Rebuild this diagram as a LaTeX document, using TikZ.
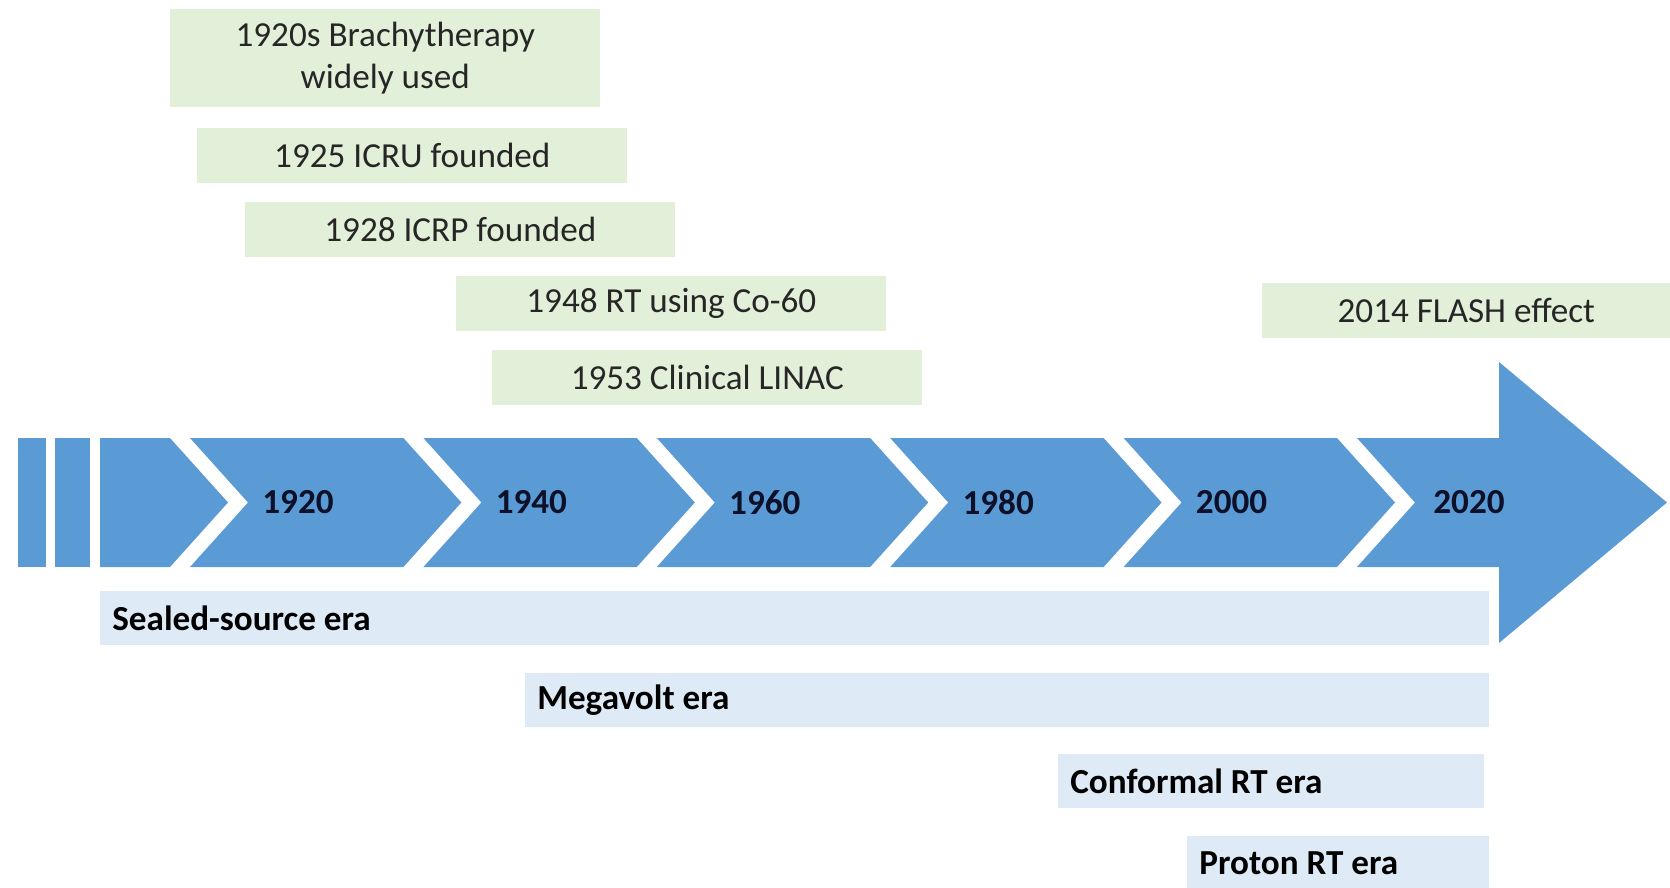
\documentclass[tikz,border=0pt]{standalone}
\usepackage{fontspec}
\setmainfont{Carlito}
\usepackage{xcolor}
\definecolor{tlBlue}{RGB}{91, 155, 213}
\definecolor{tlGreen}{RGB}{226, 239, 217}
\definecolor{tlSky}{RGB}{222, 235, 247}
\definecolor{tlInk}{RGB}{38, 38, 38}
\definecolor{tlNavy}{RGB}{12, 16, 40}
\usepackage{tikz}

\begin{document}
\begin{tikzpicture}[x=0.02cm, y=-0.02cm,
  evt/.style={rectangle, fill=tlGreen, minimum width=8.6cm, minimum height=1.1cm,
              inner sep=0pt, anchor=north west, align=center, text=tlInk,
              font=\fontsize{20}{24}\selectfont},
  era/.style={rectangle, fill=tlSky, minimum height=1.08cm, inner xsep=0.24cm,
              inner ysep=0pt, anchor=north west, align=flush left, text=black,
              font=\fontsize{20}{24}\selectfont\bfseries},
  yr/.style={font=\fontsize{20}{24}\selectfont\bfseries, text=tlNavy},
  seg/.style={fill=tlBlue},
]
  \useasboundingbox (0,0) rectangle (1670,888);

  % milestones above the time line
  \node[evt, minimum height=1.96cm] (e1) at (170,9) {1920s Brachytherapy\\widely used};
  \node[evt] (e2) at (197,128) {1925 ICRU founded};
  \node[evt] (e3) at (245,202) {1928 ICRP founded};
  \node[evt] (e4) at (456,276) {1948 RT using Co-60};
  \node[evt] (e5) at (492,350) {1953 Clinical LINAC};
  \node[evt, minimum width=8.16cm] (e6) at (1262,283) {2014 FLASH effect};

  % time line: broken start, chevrons, arrow head
  \fill[seg] (18,438) rectangle (46,567);
  \fill[seg] (55,438) rectangle (90,567);
  \fill[seg] (100,438) -- (170,438) -- (228,502.5) -- (170,567) -- (100,567) -- cycle;
  \foreach \yr [count=\i] in {1920,1940,1960,1980,2000} {
    \pgfmathsetmacro{\xl}{233.4*\i-43.4}
    \pgfmathsetmacro{\xr}{170+233.4*\i}
    \fill[seg] (\xl,438) -- (\xr,438) -- (\xr+58,502.5) -- (\xr,567)
      -- (\xl,567) -- (\xl+58,502.5) -- cycle;
    \node[yr] (y\yr) at (\xl+108,502.5) {\yr};
  }
  \fill[seg] (1357,438) -- (1499,438) -- (1499,362) -- (1667,502.5) -- (1499,643)
    -- (1499,567) -- (1357,567) -- (1415,502.5) -- cycle;
  \node[yr] (y2020) at (1469,502.5) {2020};

  % eras below the time line
  \node[era, text width=27.3cm] (r1) at (100,591) {Sealed-source era};
  \node[era, text width=18.8cm] (r2) at (525,673) {Megavolt era};
  \node[era, text width=8.04cm] (r3) at (1058,754) {Conformal RT era};
  \node[era, text width=5.56cm] (r4) at (1187,836) {Proton RT era};
\end{tikzpicture}
\end{document}
